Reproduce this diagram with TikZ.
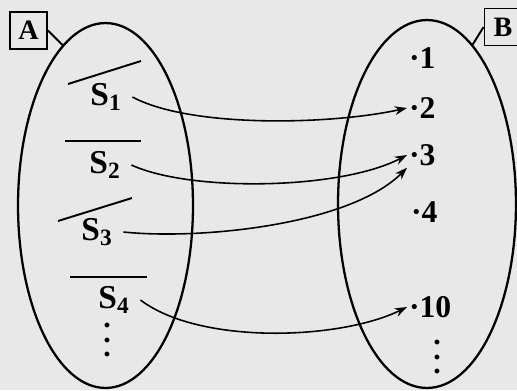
\documentclass[tikz,border=0pt]{standalone}
\usepackage{fontspec}
\setmainfont{Liberation Serif}
\usetikzlibrary{shapes.geometric}
\usetikzlibrary{arrows.meta}

\newcommand{\tallvdots}{\vbox{\baselineskip=8.4pt\lineskiplimit=0pt\hbox{.}\hbox{.}\hbox{.}}}

\begin{document}
\begin{tikzpicture}[x=0.02cm,y=-0.02cm,
  setoval/.style={ellipse,draw=black,line width=1.3pt,inner sep=0pt,minimum width=3.5cm,minimum height=7.3cm},
  setbox/.style={rectangle,draw=black,line width=1.1pt,minimum size=0.74cm,inner sep=0pt,font=\fontsize{16}{18}\selectfont\bfseries},
  elem/.style={font=\fontsize{19}{22}\selectfont\bfseries,text=black,inner ysep=1pt,inner xsep=6pt},
  num/.style={font=\fontsize{18}{20}\selectfont\bfseries,text=black,anchor=west,inner sep=1pt},
  more/.style={font=\fontsize{17}{20}\selectfont\bfseries,text=black,inner sep=0pt},
  bar/.style={black,line width=1.1pt},
  maparrow/.style={black,line width=0.9pt,-{Stealth[length=7pt,width=5pt]}}]
\fill[black!9] (0,0) rectangle (517,390);
\useasboundingbox (0,0) rectangle (517,390);

% the two sets
\node[setoval] (setA) at (105.5,205.5) {};
\node[setoval,minimum width=3.56cm,minimum height=7.36cm] (setB) at (427,204) {};
\node[setbox] (boxA) at (28.5,30.5) {A};
\node[setbox] (boxB) at (503,27) {B};
\draw[black,line width=1.1pt] (boxA.east) -- (setA.105);
\draw[black,line width=1.1pt] (boxB.west) -- (setB.74);

% elements of A
\node[elem] (S1) at (106,97) {S\textsubscript{1}};
\node[elem] (S2) at (105,165) {S\textsubscript{2}};
\node[elem] (S3) at (97,232) {S\textsubscript{3}};
\node[elem] (S4) at (114,300) {S\textsubscript{4}};
\draw[bar] (68,84) -- (141,61);
\draw[bar] (65,141) -- (141,141);
\draw[bar] (58,221) -- (132,198);
\draw[bar] (70,277) -- (147,277);
\node[more] (moreA) at (107,340) {\tallvdots};

% elements of B
\node[num] (n1) at (407,58) {·1};
\node[num] (n2) at (407,108) {·2};
\node[num] (n3) at (407,155) {·3};
\node[num] (n4) at (409,212) {·4};
\node[num] (n10) at (407,307) {·10};
\node[more] (moreB) at (437,357) {\tallvdots};

% the mapping
\draw[maparrow] (S1.east) .. controls (190,128) and (330,125) .. (n2.west);
\draw[maparrow] (S2.east) .. controls (190,192) and (340,190) .. (n3.west);
\draw[maparrow] (S3.east) .. controls (200,240) and (350,225) .. (n3.south west);
\draw[maparrow] (S4.east) .. controls (200,345) and (340,340) .. (n10.west);

\end{tikzpicture}
\end{document}
